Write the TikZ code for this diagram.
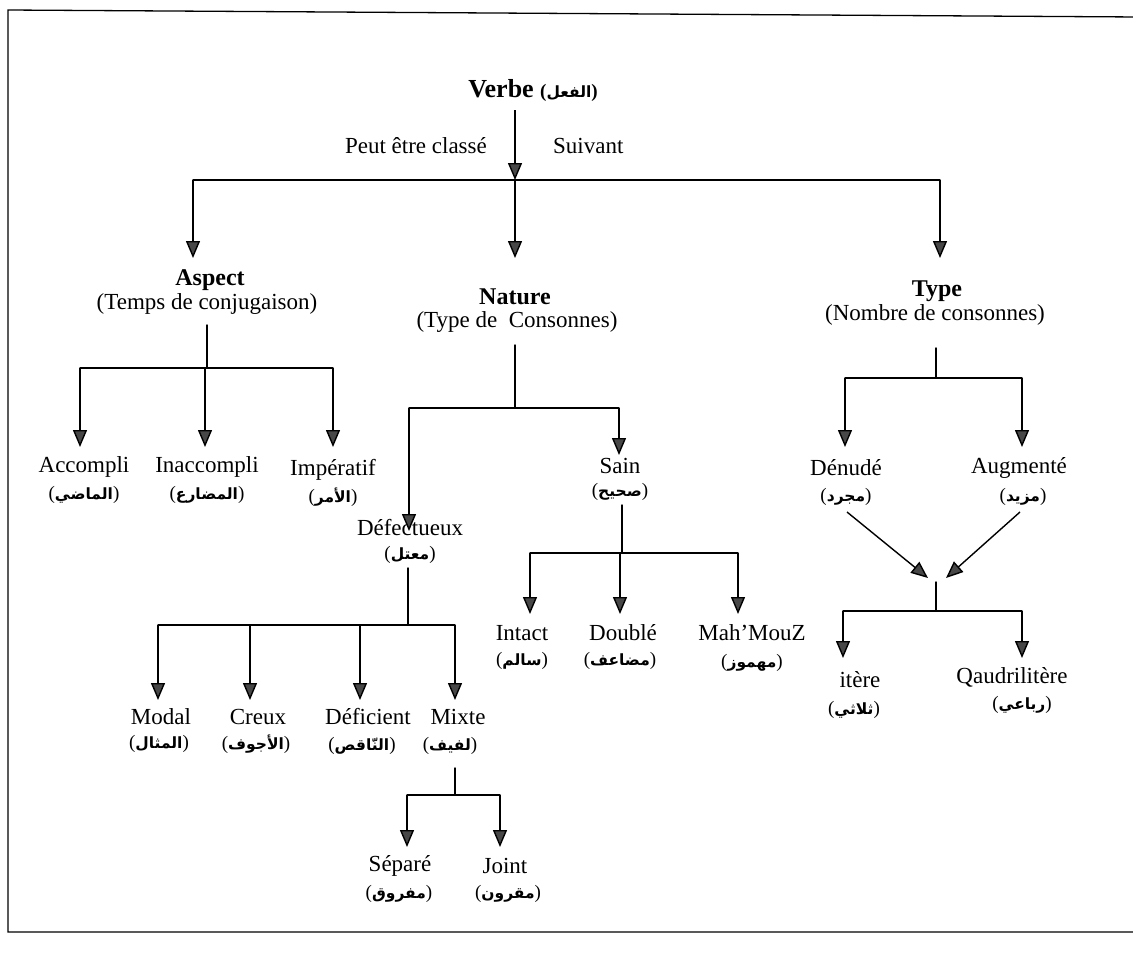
\documentclass[tikz,border=0pt]{standalone}
\usepackage{fontspec}
\setmainfont{Liberation Serif}
\newfontfamily\arabicfont[Script=Arabic]{DejaVu Sans}
\TeXXeTstate=1
\usetikzlibrary{arrows.meta}
% Arabic gloss in parentheses, set right to left
\newcommand\arw[1]{{\fontsize{19}{22}\selectfont(}{\arabicfont\bfseries\fontsize{15.5}{22}\selectfont\beginR #1\endR}{\fontsize{19}{22}\selectfont)}}
\begin{document}
\begin{tikzpicture}[x=1pt,y=-1pt,
  fr/.style={inner sep=0pt,font=\fontsize{23}{26}\selectfont},
  frb/.style={inner sep=0pt,font=\fontsize{24}{26}\selectfont\bfseries},
  arl/.style={inner sep=0pt},
  link/.style={line width=1.4pt,line cap=round},
  arr/.style={line width=1.4pt,-{Triangle[width=14pt,length=17pt,fill=black!72]}}]
\useasboundingbox (0,0) rectangle (1133,970);
\fill[white] (0,0) rectangle (1133,970);
% frame
\draw[line width=1.3pt] (1140,17) -- (8,10) -- (8,932) -- (1140,932);

% ---- root ----
\node[frb,font=\fontsize{26}{30}\selectfont\bfseries] (verbe) at (533,90) {Verbe \arw{الفعل}};
\node[fr,anchor=east] (peut) at (487,146) {Peut être classé};
\node[fr,anchor=west] (suiv) at (553,146) {Suivant};
\coordinate (vTop) at (515,110);
\coordinate (vBar) at (515,180);

% ---- first level ----
\node[frb] (aspect) at (210,280) {Aspect};
\node[fr] (aspectSub) at (207,304) {(Temps de conjugaison)};
\node[frb] (nature) at (515,297) {Nature};
\node[fr] (natureSub) at (517,322) {(Type de\ \ Consonnes)};
\node[frb] (type) at (937,291) {Type};
\node[fr] (typeSub) at (935,315) {(Nombre de consonnes)};
\coordinate (aspT) at (193,258);
\coordinate (natT) at (515,258);
\coordinate (typT) at (940,258);

% ---- aspect ----
\node[fr] (acc) at (84,467) {Accompli};
\node[arl] (accA) at (84,495) {\arw{الماضي}};
\node[fr] (ina) at (207,467) {Inaccompli};
\node[arl] (inaA) at (207,495) {\arw{المضارع}};
\node[fr] (imp) at (333,470) {Impératif};
\node[arl] (impA) at (333,497) {\arw{الأمر}};
\coordinate (aspS) at (207,325);
\coordinate (aspJ) at (207,368);
\coordinate (accT) at (80,447);
\coordinate (inaT) at (205,447);
\coordinate (impT) at (333,447);

% ---- nature ----
\node[fr] (sain) at (620,466) {Sain};
\node[arl] (sainA) at (620,492) {\arw{صحيح}};
\node[fr] (def) at (410,528) {Défectueux};
\node[arl] (defA) at (410,555) {\arw{معتل}};
\coordinate (natS) at (515,345);
\coordinate (natJ) at (515,408);
\coordinate (defT) at (409,531);
\coordinate (sainT) at (619,455);

% ---- defectueux ----
\node[fr] (modal) at (161,717) {Modal};
\node[arl] (modalA) at (159,744) {\arw{المثال}};
\node[fr] (creux) at (258,717) {Creux};
\node[arl] (creuxA) at (256,744) {\arw{الأجوف}};
\node[fr] (dfc) at (368,717) {Déficient};
\node[arl] (dfcA) at (362,746) {\arw{النّاقص}};
\node[fr] (mix) at (458,717) {Mixte};
\node[arl] (mixA) at (450,746) {\arw{لفيف}};
\coordinate (defS) at (408,568);
\coordinate (defJ) at (408,625);
\coordinate (modT) at (158,700);
\coordinate (creT) at (250,700);
\coordinate (dfcT) at (360,700);
\coordinate (mixT) at (455,700);

% ---- mixte ----
\node[fr] (sep) at (400,866) {Séparé};
\node[arl] (sepA) at (399,894) {\arw{مفروق}};
\node[fr] (joi) at (505,866) {Joint};
\node[arl] (joiA) at (508,894) {\arw{مقرون}};
\coordinate (mixS) at (455,768);
\coordinate (mixJ) at (455,795);
\coordinate (sepT) at (407,847);
\coordinate (joiT) at (500,847);

% ---- sain ----
\node[fr] (int) at (522,633) {Intact};
\node[arl] (intA) at (522,661) {\arw{سالم}};
\node[fr] (dou) at (623,633) {Doublé};
\node[arl] (douA) at (620,661) {\arw{مضاعف}};
\node[fr] (mah) at (752,633) {Mah’MouZ};
\node[arl] (mahA) at (752,663) {\arw{مهموز}};
\coordinate (sainS) at (622,505);
\coordinate (sainJ) at (622,553);
\coordinate (intT) at (530,614);
\coordinate (douT) at (620,614);
\coordinate (mahT) at (738,614);

% ---- type ----
\node[fr] (den) at (846,468) {Dénudé};
\node[arl] (denA) at (846,497) {\arw{مجرد}};
\node[fr] (aug) at (1019,468) {Augmenté};
\node[arl] (augA) at (1023,497) {\arw{مزيد}};
\coordinate (typS) at (936,348);
\coordinate (typJ) at (936,378);
\coordinate (denT) at (845,447);
\coordinate (augT) at (1022,447);
\coordinate (denD) at (847,512);
\coordinate (augD) at (1020,512);
\coordinate (mrgL) at (928,578);
\coordinate (mrgR) at (946,578);

% ---- merged consonant count ----
\node[fr] (tri) at (860,680) {itère};
\node[arl] (triA) at (854,710) {\arw{ثلاثي}};
\node[fr] (qua) at (1012,677) {Qaudrilitère};
\node[arl] (quaA) at (1022,705) {\arw{رباعي}};
\coordinate (mrgS) at (936,582);
\coordinate (mrgJ) at (936,611);
\coordinate (triT) at (843,658);
\coordinate (quaT) at (1022,658);

% ---- connectors ----
\draw[arr] (vTop) -- (vBar);
\draw[link] (vBar -| aspT) -- (vBar -| typT);
\foreach \t in {aspT,natT,typT} \draw[arr] (vBar -| \t) -- (\t);

\draw[link] (aspS) -- (aspJ);
\draw[link] (aspJ -| accT) -- (aspJ -| impT);
\foreach \t in {accT,inaT,impT} \draw[arr] (aspJ -| \t) -- (\t);

\draw[link] (natS) -- (natJ);
\draw[link] (natJ -| defT) -- (natJ -| sainT);
\foreach \t in {defT,sainT} \draw[arr] (natJ -| \t) -- (\t);

\draw[link] (defS) -- (defJ);
\draw[link] (defJ -| modT) -- (defJ -| mixT);
\foreach \t in {modT,creT,dfcT,mixT} \draw[arr] (defJ -| \t) -- (\t);

\draw[link] (mixS) -- (mixJ);
\draw[link] (mixJ -| sepT) -- (mixJ -| joiT);
\foreach \t in {sepT,joiT} \draw[arr] (mixJ -| \t) -- (\t);

\draw[link] (sainS) -- (sainJ);
\draw[link] (sainJ -| intT) -- (sainJ -| mahT);
\foreach \t in {intT,douT,mahT} \draw[arr] (sainJ -| \t) -- (\t);

\draw[link] (typS) -- (typJ);
\draw[link] (typJ -| denT) -- (typJ -| augT);
\foreach \t in {denT,augT} \draw[arr] (typJ -| \t) -- (\t);

\draw[arr] (denD) -- (mrgL);
\draw[arr] (augD) -- (mrgR);
\draw[link] (mrgS) -- (mrgJ);
\draw[link] (mrgJ -| triT) -- (mrgJ -| quaT);
\foreach \t in {triT,quaT} \draw[arr] (mrgJ -| \t) -- (\t);
\end{tikzpicture}
\end{document}
